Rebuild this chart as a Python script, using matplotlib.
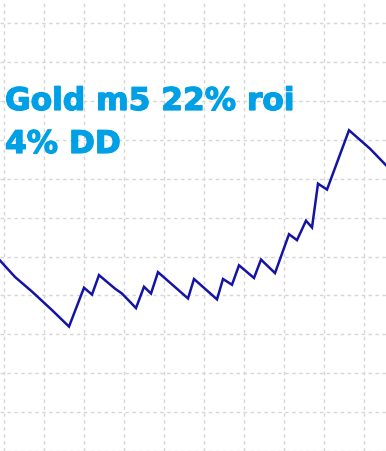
import matplotlib
matplotlib.use("Agg")
import matplotlib.pyplot as plt
import matplotlib.patheffects as pe
import numpy as np

# Equity curve (trade index, balance)
trades = [-1, 2.75, 7, 12, 16.25, 20, 22, 23.75, 27.75, 29.5, 33, 35, 36.75, 38.5,
          46, 47.5, 53.25, 54.75, 57, 58.75, 62.5, 64.25, 67.75, 71.25, 73.25,
          75.5, 77, 78.5, 80.75, 86.25, 91.5, 95.5]
balance = [10000, 9788, 9600, 9362, 9150, 9650, 9562, 9812, 9638, 9575, 9388,
           9662, 9575, 9850, 9512, 9762, 9500, 9762, 9688, 9938, 9775, 10012,
           9838, 10338, 10262, 10512, 10425, 10988, 10912, 11675, 11438, 11225]

title_lines = ["Gold m5 22% roi", "4% DD"]

W, H = 386, 451
fig = plt.figure(figsize=(W / 100, H / 100), dpi=100)
ax = fig.add_axes([0, 0, 1, 1])

ax.plot(trades, balance, color="#1414a4", lw=1.8, solid_joinstyle="miter")

ax.set_xlim(-1, 95.5)
ax.set_ylim(7712.5, 13350)
ax.set_xticks(np.arange(0, 95, 10))
ax.set_yticks(np.arange(7550, 13400, 500))
ax.grid(True, color="#d6d6d6", linestyle=(0, (2.5, 2.5)), linewidth=1.0)
ax.tick_params(length=0, labelbottom=False, labelleft=False)
for s in ax.spines.values():
    s.set_visible(False)

ys = [1 - 110 / H, 1 - 153 / H]
for line, y in zip(title_lines, ys):
    fig.text(5 / W, y, line, color="#00a0e6", family="DejaVu Sans",
             fontweight="bold", fontsize=22.5, va="baseline", ha="left",
             path_effects=[pe.withStroke(linewidth=0.9, foreground="#00a0e6")])

fig.savefig("out.png", dpi=100)
